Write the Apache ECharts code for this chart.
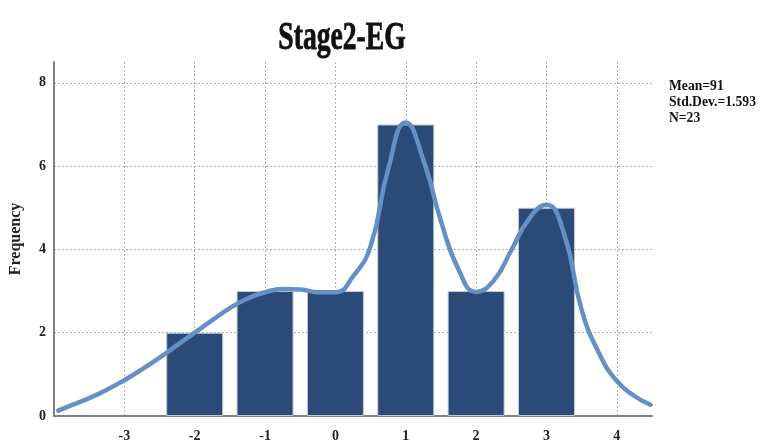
<!DOCTYPE html>
<html>
<head>
<meta charset="utf-8">
<script src="https://cdn.jsdelivr.net/npm/echarts@6/dist/echarts.min.js"></script>
<style>
  html, body { margin: 0; padding: 0; background: #fff; }
  #chart { width: 765px; height: 443px; }
</style>
</head>
<body>
<div id="chart"></div>
<script>
// Histogram bins (bin centre, frequency)
const binCenters = [-2, -1, 0, 1, 2, 3];
const binCounts = [2, 3, 3, 7, 3, 5];

// Density curve, scaled to frequency units: x positions and heights
const curveX = [-3.94, -3.75, -3.5, -3.25, -3.0, -2.75, -2.5, -2.25, -2.0, -1.75, -1.5, -1.25, -1.0, -0.75, -0.5, -0.25, 0.0, 0.25, 0.5, 0.75, 1.0, 1.25, 1.5, 1.75, 2.0, 2.25, 2.5, 2.75, 3.0, 3.25, 3.5, 3.75, 4.0, 4.25, 4.48];
const curveY = [0.13, 0.26, 0.43, 0.63, 0.86, 1.12, 1.40, 1.70, 2.0, 2.30, 2.59, 2.82, 2.97, 3.05, 3.04, 2.97, 2.97, 3.35, 4.08, 5.93, 7.05, 6.15, 4.68, 3.52, 2.98, 3.25, 3.98, 4.73, 5.07, 4.37, 2.55, 1.5, 0.84, 0.48, 0.27];

// Summary statistics shown beside the plot
const statLines = ['Mean=91', 'Std.Dev.=1.593', 'N=23'];
const chartTitle = 'Stage2-EG';
const yAxisName = 'Frequency';

const SERIF = '"Liberation Serif", "DejaVu Serif", serif';
const labelStyle = { fontFamily: SERIF, fontWeight: 'bold', fontSize: 14, color: '#222' };
const gridLine = { show: true, showMinLine: false, showMaxLine: false, lineStyle: { color: '#b0b0b0', type: [2, 2], width: 1 } };

const chart = echarts.init(document.getElementById('chart'), null, { renderer: 'canvas' });

const statGraphics = statLines.map((t, i) => ({
  type: 'text',
  x: 669,
  y: 86 + i * 16,
  scaleX: 0.88,
  style: { text: t, font: 'bold 15.5px ' + SERIF, fill: '#111', align: 'left', verticalAlign: 'middle' }
}));

chart.setOption({
  animation: false,
  backgroundColor: '#fff',
  grid: { left: 51, right: 113, top: 62, bottom: 20 },
  xAxis: {
    type: 'value',
    min: -4,
    max: 4.5,
    interval: 1,
    axisLine: { show: true, onZero: false, lineStyle: { color: '#808080', width: 2 } },
    axisTick: { show: false },
    axisLabel: Object.assign({ margin: 13, showMinLabel: false, showMaxLabel: false }, labelStyle),
    splitLine: gridLine
  },
  yAxis: {
    type: 'value',
    min: 0,
    max: 8.5,
    interval: 2,
    name: yAxisName,
    nameLocation: 'middle',
    nameGap: 30,
    nameTextStyle: Object.assign({}, labelStyle, { fontSize: 16 }),
    axisLine: { show: true, onZero: false, lineStyle: { color: '#808080', width: 2 } },
    axisTick: { show: false },
    axisLabel: Object.assign({ margin: 8, showMaxLabel: false }, labelStyle),
    splitLine: gridLine
  },
  graphic: [
    {
      type: 'text',
      x: 342,
      y: 39,
      scaleX: 0.69,
      style: { text: chartTitle, font: 'bold 40px ' + SERIF, fill: '#111', stroke: '#111', lineWidth: 0.8, align: 'center', verticalAlign: 'middle' }
    }
  ].concat(statGraphics),
  series: [
    {
      type: 'bar',
      data: binCenters.map((c, i) => [c, binCounts[i]]),
      barWidth: 57,
      itemStyle: { color: '#2b4a78', borderColor: '#c4c8d0', borderWidth: 1 },
      z: 2
    },
    {
      type: 'line',
      data: curveX.map((x, i) => [x, curveY[i]]),
      smooth: 0.5,
      showSymbol: false,
      symbol: 'none',
      lineStyle: { color: '#6590c6', width: 4.5, cap: 'round' },
      z: 3
    }
  ]
});
</script>
</body>
</html>
